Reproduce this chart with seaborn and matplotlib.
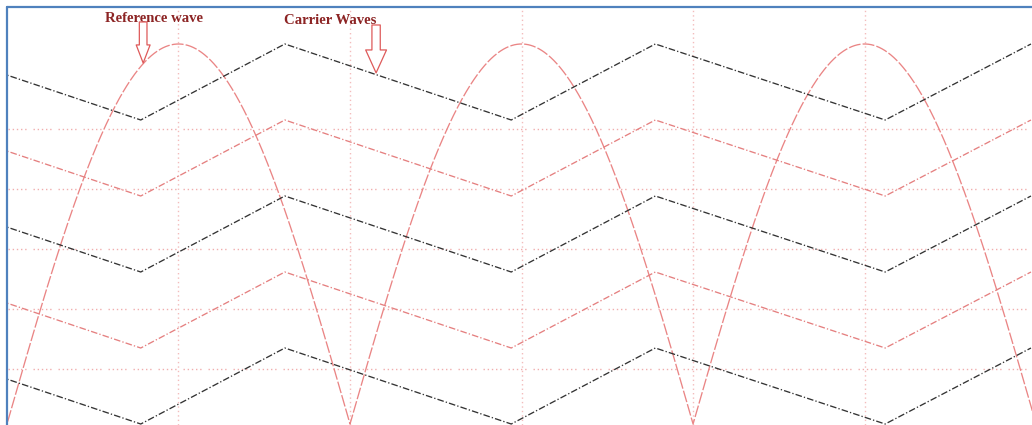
import numpy as np
import pandas as pd
import matplotlib
matplotlib.use("Agg")
import matplotlib.pyplot as plt
from matplotlib.lines import Line2D
import seaborn as sns

# --- data -----------------------------------------------------------------
# Reference (modulating) wave: rectified sine, 50 Hz -> 10 ms half period
ref_peak = 1.0
ref_half_period_ms = 10.0

# Carrier waves: five stacked triangular carriers sharing the same vertex times
carrier_vertex_ms = [-2.7, 3.9, 8.1, 14.7, 18.9, 25.6, 29.85]
carrier_starts_high = True
band_edges = [0.0, 0.2, 0.4, 0.6, 0.8, 1.0]
carrier_colors = ["#333333", "#e58080", "#333333", "#e58080", "#333333"]  # bottom -> top

grid_x_ms = [5, 10, 15, 20, 25]
grid_y = [0.145, 0.303, 0.461, 0.619, 0.777]

ref_label = "Reference wave"
carrier_label = "Carrier Waves"

# --- figure ---------------------------------------------------------------
W, H = 1032, 425
sns.set_theme(style="white")
fig = plt.figure(figsize=(W / 100, H / 100), dpi=100)
fig.patch.set_facecolor("white")
ax = fig.add_axes([8 / W, 0, (W - 8) / W, (H - 8) / H])
ax.set_facecolor("white")

# grid
ax.set_xticks(grid_x_ms)
ax.set_yticks(grid_y)
ax.tick_params(length=0, labelbottom=False, labelleft=False)
dot_groups = (0, (1, 2, 1, 2, 1, 2, 1, 2, 1, 5))
ax.xaxis.grid(True, color="#f3bcbc", linestyle=(0, (1, 2.2)), linewidth=1.0)
ax.yaxis.grid(True, color="#f0aeae", linestyle=dot_groups, linewidth=1.0)
ax.set_axisbelow(True)
for s in ax.spines.values():
    s.set_visible(False)

# reference wave
ref_t = np.linspace(0, 30, 3001)
ref_y = ref_peak * np.abs(np.sin(np.pi * ref_t / ref_half_period_ms))
sns.lineplot(x=ref_t, y=ref_y, ax=ax, color="#ea8585", linewidth=0.95,
             linestyle=(0, (9, 1.6)), errorbar=None)

# carrier waves
for k, col in enumerate(carrier_colors):
    lo, hi = band_edges[k], band_edges[k + 1]
    vals = [(hi if (i % 2 == 0) == carrier_starts_high else lo)
            for i in range(len(carrier_vertex_ms))]
    df = pd.DataFrame({"t": carrier_vertex_ms, "v": vals})
    sns.lineplot(data=df, x="t", y="v", ax=ax, color=col, linewidth=0.95,
                 linestyle=(0, (5, 1.6, 1, 1.6)), errorbar=None, sort=False)

ax.set_xlim(0.03, 29.88)
ax.set_ylim(-0.0026, 1.0947)
ax.set_xlabel("")
ax.set_ylabel("")

# labels with hollow arrows
txt_kw = dict(ha="center", va="center", fontsize=10.6, fontweight="bold",
              family="Liberation Serif", color="#8c2424")
ax.text(4.29, 1.068, ref_label, **txt_kw)
ax.text(9.42, 1.062, carrier_label, **txt_kw)

ax.annotate("", xy=(3.97, 0.95), xytext=(3.97, 1.058),
            arrowprops=dict(arrowstyle="simple,head_length=1.3,head_width=1.0,tail_width=0.55",
                            fc="white", ec="#de5a5a", lw=0.9, shrinkA=0, shrinkB=0,
                            mutation_scale=10))
ax.annotate("", xy=(10.76, 0.924), xytext=(10.76, 1.05),
            arrowprops=dict(arrowstyle="simple,head_length=1.65,head_width=1.5,tail_width=0.6",
                            fc="white", ec="#de5a5a", lw=0.9, shrinkA=0, shrinkB=0,
                            mutation_scale=10))

# frame lines on the left and top
border = "#4f81bd"
fig.add_artist(Line2D([7 / W, 7 / W], [0, 1 - 7 / H], transform=fig.transFigure,
                      color=border, linewidth=1.6))
fig.add_artist(Line2D([7 / W, 1], [1 - 7 / H, 1 - 7 / H], transform=fig.transFigure,
                      color=border, linewidth=1.6))

fig.savefig("out.png", dpi=100, facecolor="white")
